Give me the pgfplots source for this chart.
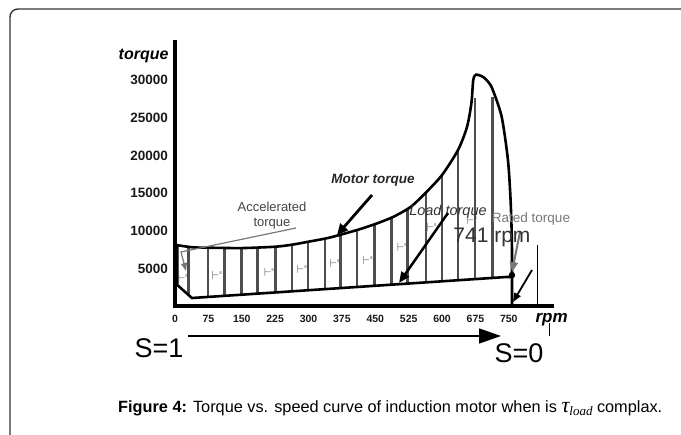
\documentclass[border=0pt]{standalone}
\usepackage{pgfplots}
\pgfplotsset{compat=1.18}
\usepackage{fontspec}
\setmainfont{Liberation Sans}
\newfontfamily\timesfont{Liberation Serif}
\usetikzlibrary{arrows.meta}
\definecolor{hatch}{HTML}{4E4E4E}
\definecolor{annot}{HTML}{444444}
\definecolor{lightannot}{HTML}{777777}
\begin{document}
\begin{tikzpicture}[x=1pt,y=1pt]
\useasboundingbox (0,0) rectangle (681,435);
% frame
\draw[line width=1.4pt, black!80] (10,-2) -- (10,418) arc[start angle=180,end angle=90,radius=8] -- (683,426);
\begin{axis}[
  at={(175pt,129pt)}, anchor=south west,
  scale only axis, width=377pt, height=264pt,
  xmin=0, xmax=847, ymin=0, ymax=35100,
  scaled y ticks=false, scaled x ticks=false,
  axis lines=left,
  axis line style={-, line width=3.8pt, black, line cap=rect},
  xtick={0,75,150,225,300,375,450,525,600,675,750},
  xticklabels={0,75,150,225,300,375,450,525,600,675,750},
  ytick={5000,10000,15000,20000,25000,30000},
  yticklabels={5000,10000,15000,20000,25000,30000},
  tick style={black, line width=2pt},
  major tick length=3pt, tick align=center,
  xticklabel style={font=\bfseries\fontsize{10.5}{11}\selectfont, yshift=-4pt, text=black!90},
  yticklabel style={font=\bfseries\fontsize{13.5}{14}\selectfont, xshift=-2pt, text=black!90},
  clip=false,
  unbounded coords=jump,
]
% hatch lines between load and motor torque
\addplot[hatch, line width=2.8pt] coordinates {
(31,1450)(31,7850) (31,nan)
(74,1200)(74,7750) (74,nan)
(112,1353)(112,7700) (112,nan)
(150,1503)(150,7700) (150,nan)
(186,1645)(186,7750) (186,nan)
(225,1800)(225,7880) (225,nan)
(263,1950)(263,8150) (263,nan)
(299,2092)(299,8550) (299,nan)
(337,2243)(337,9000) (337,nan)
(371,2377)(371,9400) (371,nan)
(409,2527)(409,10100) (409,nan)
(449,2686)(449,10900) (449,nan)
(487,2836)(487,11800) (487,nan)
(523,2978)(523,12900) (523,nan)
(564,3140)(564,15100) (564,nan)
(600,3283)(600,17400) (600,nan)
(636,3425)(636,20750) (636,nan)
(674,3575)(674,27660) (674,nan)
(714,3734)(714,27800)
};
% motor torque
\addplot[black, line width=2.6pt, smooth, tension=0.45] coordinates {
(3,8100)(40,7800)(75,7750)(150,7700)(225,7880)(263,8150)(300,8550)(348,9100)
(409,10100)(450,10900)(490,11840)(530,13200)(565,15160)(600,17420)(636,20750)
(656,23800)(666,27000)(670,30000)(676,30750)(692,30460)(705,29700)(714,28730)
(734,25140)(748,19420)(754,14000)(757,8000)(757,0)
};
% load torque
\addplot[black, line width=2.6pt] coordinates {
(5,8100)(5,2800)(38,1060)(746,3860)(757,3860)
};
% small markers
\addplot[only marks, mark=text, text mark={\color{annot}\fontsize{12}{12}\selectfont$\vdash$\raisebox{5pt}{\fontsize{5}{5}\selectfont s}}] coordinates {
(18,3720)(94,4120)(211,4520)(285,4920)(359,5720)(433,6120)(510,7850)(577,10500)(667,11440)
};
% rated point
\addplot[only marks, mark=*, mark size=3pt, black] coordinates {(757,4100)};
\end{axis}
% axis names
\node[anchor=east, font=\bfseries\itshape\fontsize{16}{16}\selectfont] at (172,379) {torque};
\node[anchor=west, font=\bfseries\itshape\fontsize{17}{17}\selectfont] at (532,115) {rpm};
% annotations
\node[align=center, font=\fontsize{13}{15}\selectfont, text=annot] at (272,219) {Accelerated\\torque};
\draw[lightannot, line width=1.2pt, -{Triangle[length=8pt,width=6pt]}] (296,207) -- (181,183) -- (186,164);
\node[font=\bfseries\itshape\fontsize{13.5}{14}\selectfont, text=black!85] at (373,255) {Motor torque};
\draw[black, line width=2.8pt, -{Triangle[length=11pt,width=10pt]}] (372,240) -- (337,200);
\node[font=\itshape\fontsize{14.5}{15}\selectfont, text=black!80] at (448,223) {Load torque};
\draw[black, line width=2.5pt, -{Triangle[length=11pt,width=9pt]}] (448,222) -- (399,152);
\node[font=\fontsize{13.5}{14}\selectfont, text=lightannot] at (531,216) {Rated torque};
\draw[lightannot, line width=2pt, -{Triangle[length=10pt,width=8pt]}] (520,203) -- (512,163);
\node[font=\fontsize{21}{21}\selectfont, text=black!80] at (492,198) {741 rpm};
\draw[black, line width=1.8pt, -{Triangle[length=9pt,width=7pt]}] (532,165) -- (513,133);
\draw[black, line width=0.9pt] (537,190) -- (537,129);
\draw[black, line width=0.9pt] (549,112) -- (549,99);
% slip arrow
\node[font=\fontsize{27}{27}\selectfont] at (159,87) {S=1};
\node[font=\fontsize{27}{27}\selectfont] at (519,82) {S=0};
\draw[black, line width=1.5pt, -{Triangle[length=22pt,width=15pt]}] (188,99) -- (501,99);
% caption
\node[anchor=west, inner sep=0pt, font=\fontsize{16.3}{16}\selectfont] at (118,27) {\textbf{Figure 4:} Torque vs. speed curve of induction motor when is {\timesfont\itshape\fontsize{22}{22}\selectfont τ}\raisebox{-3pt}{\timesfont\itshape\fontsize{13}{13}\selectfont load} complax.};
\end{tikzpicture}
\end{document}
